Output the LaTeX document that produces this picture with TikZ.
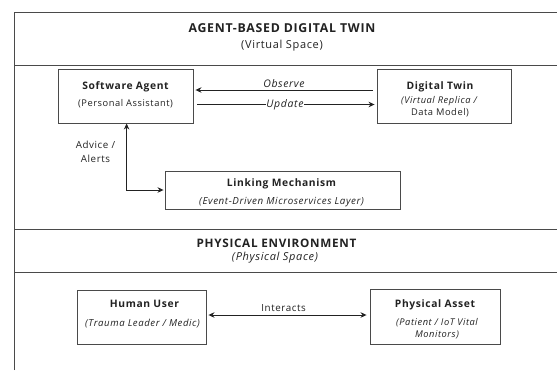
\documentclass[tikz,border=0pt]{standalone}
\usepackage{fontspec}
\setmainfont{Open Sans}[LetterSpace=6]
\usetikzlibrary{arrows.meta}
\definecolor{ink}{HTML}{222222}
\definecolor{rule}{HTML}{4A4A4A}
\tikzset{
  frame/.style={draw=rule, line width=0.9pt},
  box/.style={draw=rule, line width=0.9pt, fill=white, inner sep=0pt},
  txt/.style={text=ink, inner sep=0pt, anchor=base},
  head/.style={txt, font=\bfseries\fontsize{12.3}{14}\selectfont},
  subhead/.style={txt, font=\fontsize{11}{13}\selectfont},
  boxtitle/.style={txt, font=\bfseries\fontsize{10.3}{12}\selectfont},
  boxsub/.style={txt, font=\fontsize{9.3}{11}\selectfont},
  boxsubit/.style={txt, font=\itshape\fontsize{9.3}{11}\selectfont},
  elabel/.style={text=ink, inner sep=0pt, font=\fontsize{9.8}{14.5}\selectfont},
  itlabel/.style={text=ink, inner sep=0pt, font=\itshape\fontsize{10.5}{12.5}\selectfont},
  tip/.tip={Stealth[length=6pt,width=5.5pt]},
  link/.style={draw=ink, line width=0.9pt, -tip},
  dlink/.style={draw=ink, line width=0.9pt, tip-tip},
}
\begin{document}
\begin{tikzpicture}[x=1pt,y=-1pt]
\useasboundingbox (0,0) rectangle (557,370);
\fill[white] (0,0) rectangle (557,370);

% outer frame and section dividers
\draw[frame] (14,370) -- (14,12.5) -- (557,12.5);
\draw[frame] (14,65) -- (557,65);
\draw[frame] (14,229.5) -- (557,229.5);
\draw[frame] (14,272) -- (557,272);

% section headings
\node[head] (vtitle) at (282,32.2) {AGENT-BASED DIGITAL TWIN};
\node[subhead] (vsub) at (282,48.8) {(Virtual Space)};
\node[head, font=\bfseries\fontsize{11.7}{14}\selectfont] (ptitle) at (276.5,247.2) {PHYSICAL ENVIRONMENT};
\node[subhead, font=\itshape\fontsize{11}{13}\selectfont] (psub) at (275,260.6) {(Physical Space)};

% virtual space components
\node[box, minimum width=135pt, minimum height=54pt] (agent) at (125.5,96) {};
\node[boxtitle] (agent-t) at (125.5,89.3) {Software Agent};
\node[boxsub] (agent-s) at (125.5,106.2) {(Personal Assistant)};

\node[box, minimum width=134pt, minimum height=54pt] (twin) at (444,96) {};
\node[boxtitle] (twin-t) at (440,89.3) {Digital Twin};
\node[boxsubit] (twin-s1) at (439,103.3) {(Virtual Replica /};
\node[boxsub] (twin-s2) at (440,115.6) {Data Model)};

\node[box, minimum width=235pt, minimum height=38pt] (linking) at (282.5,190) {};
\node[boxtitle] (linking-t) at (281.5,186.6) {Linking Mechanism};
\node[boxsubit, font=\itshape\fontsize{9.8}{11}\selectfont] (linking-s) at (281.5,204.3) {(Event-Driven Microservices Layer)};

% physical space components
\node[box, minimum width=129pt, minimum height=54pt] (human) at (141.5,317) {};
\node[boxtitle] (human-t) at (144.5,307.6) {Human User};
\node[boxsubit, font=\itshape\fontsize{9.6}{11}\selectfont] (human-s) at (142.5,326) {(Trauma Leader / Medic)};

\node[box, minimum width=130pt, minimum height=55pt] (asset) at (435,316.5) {};
\node[boxtitle] (asset-t) at (435,307.6) {Physical Asset};
\node[boxsubit] (asset-s1) at (437,325.6) {(Patient / IoT Vital};
\node[boxsubit] (asset-s2) at (437,337.8) {Monitors)};

% observe / update
\draw[link, shorten >=2pt, shorten <=4pt] (twin.west |- 0,90) -- (agent.east |- 0,90);
\node[itlabel] (obs) at (284,83.3) {Observe};
\draw[link, shorten >=2pt, shorten <=4pt] (agent.east |- 0,104.5) -- (twin.west |- 0,104.5)
  node[midway, fill=white, inner xsep=8pt, inner ysep=2pt, itlabel] (upd) {Update};

% advice / alerts
\coordinate (aa) at (126.6,122.5);
\draw[dlink, shorten >=1pt, shorten <=1pt] (aa) |- (linking.west);
\node[elabel, align=center] (adv) at (95.5,151.7) {Advice /\\Alerts};

% interaction between user and asset
\draw[dlink, shorten >=3pt, shorten <=2pt] (human.east |- 0,315) -- (asset.west |- 0,315);
\node[elabel] (inter) at (283.6,307.7) {Interacts};
\end{tikzpicture}
\end{document}
